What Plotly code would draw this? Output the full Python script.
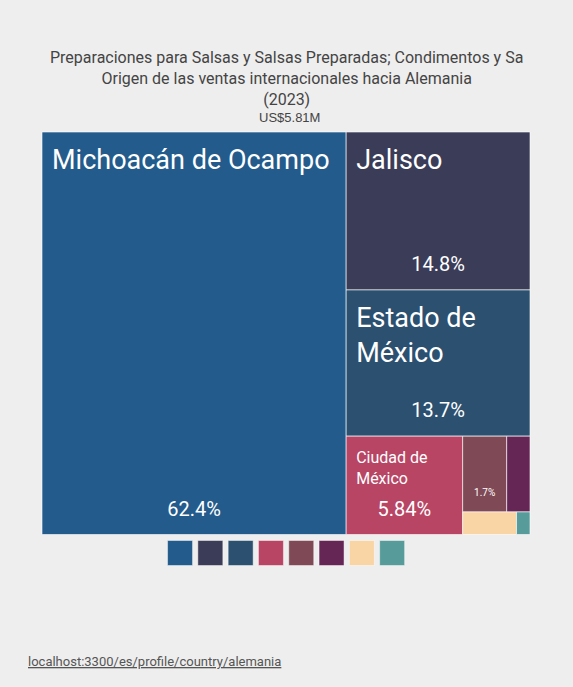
import plotly.graph_objects as go

# ---- data ----
states = ["Michoacán de Ocampo", "Jalisco", "Estado de México", "Ciudad de México",
          "Guanajuato", "Nuevo León", "Querétaro", "Sonora"]
shares = [62.4, 14.8, 13.7, 5.84, 1.7, 0.9, 0.62, 0.155]  # % of US$5.81M
colors = ["#235b8c", "#3a3c58", "#2c5070", "#b94564", "#7f4a56", "#652555", "#f9d4a5", "#579b9a"]
cell_labels = ["Michoacán de Ocampo", "Jalisco", "Estado de<br>México", "Ciudad de<br>México",
               "", "", "", ""]
label_sizes = [27, 27, 27, 16, 10, 10, 10, 10]
show_pct = [True, True, True, True, True, False, False, False]
pct_sizes = [20, 20, 20, 20, 10, 8, 8, 8]
title_lines = ["Preparaciones para Salsas y Salsas Preparadas; Condimentos y Sa",
               "Origen de las ventas internacionales hacia Alemania",
               "(2023)"]
total_label = "US$5.81M"
source = "localhost:3300/es/profile/country/alemania"

W, H = 573, 687
x0, x1, y0, y1 = 42, 530, 132, 534.5


def dom(dx=0.0, dy=0.0):
    return dict(x=[(x0 + dx) / W, (x1 + dx) / W],
                y=[1 - (y1 + dy) / H, 1 - (y0 + dy) / H])


font_main = "Roboto, sans-serif"
pct_text = [f"{v:.3g}%" if s else "" for v, s in zip(shares, show_pct)]
n = len(states)
common = dict(labels=states, parents=[""] * n, values=shares, sort=False,
              tiling=dict(pad=0, packing="squarify", squarifyratio=1.618),
              pathbar=dict(visible=False), root=dict(color="rgba(0,0,0,0)"))

fig = go.Figure()
# coloured cells
fig.add_trace(go.Treemap(
    **common, textinfo="none",
    marker=dict(colors=colors, line=dict(color="rgba(255,255,255,0.6)", width=1),
                pad=dict(t=0, l=0, r=0, b=0)),
    domain=dom(),
    hovertemplate="%{label}<br>%{value:.3g}%<extra></extra>",
))
# names, top left
fig.add_trace(go.Treemap(
    **common, text=cell_labels, texttemplate="%{text}", textposition="top left",
    textfont=dict(family=font_main, size=label_sizes, color="white"),
    marker=dict(colors=["rgba(0,0,0,0)"] * n, line=dict(width=0), pad=dict(t=0, l=0, r=0, b=0)),
    domain=dom(7, 9), hoverinfo="skip",
))
# shares, bottom centre
fig.add_trace(go.Treemap(
    **common, text=pct_text, texttemplate="%{text}", textposition="bottom center",
    textfont=dict(family=font_main, size=pct_sizes, color="white"),
    marker=dict(colors=["rgba(0,0,0,0)"] * n, line=dict(width=0), pad=dict(t=0, l=0, r=0, b=0)),
    domain=dom(0, -11), hoverinfo="skip",
))

# legend squares
fig.add_trace(go.Scatter(
    x=list(range(n)), y=[0] * n, mode="markers",
    marker=dict(symbol="square", size=25, color=colors,
                line=dict(color="rgba(255,255,255,0.45)", width=1)),
    text=states, hovertemplate="%{text}<extra></extra>", showlegend=False,
))
lx0, lx1 = 164.9, 407.3
fig.update_xaxes(visible=False, range=[-0.5, n - 0.5],
                 domain=[lx0 / W, lx1 / W], fixedrange=True)
fig.update_yaxes(visible=False, range=[-1, 1], domain=[1 - 566 / H, 1 - 540 / H], fixedrange=True)

fig.add_annotation(text="<br>".join(title_lines), x=0.5, xref="paper", y=1 - 46 / H, yref="paper",
                   xanchor="center", yanchor="top", showarrow=False,
                   font=dict(family=font_main, size=16, color="#444444"))
fig.add_annotation(text=total_label, x=0.505, xref="paper", y=1 - 127 / H, yref="paper",
                   xanchor="center", yanchor="bottom", showarrow=False,
                   font=dict(family="Liberation Sans, Arial, sans-serif", size=13, color="#444444"))
fig.add_annotation(text=f"<u>{source}</u>", x=26 / W, xref="paper", y=1 - 671 / H, yref="paper",
                   xanchor="left", yanchor="bottom", showarrow=False,
                   font=dict(family=font_main, size=13, color="#555555"))

fig.update_layout(width=W, height=H, margin=dict(l=0, r=0, t=0, b=0),
                  paper_bgcolor="#eeeeee", plot_bgcolor="rgba(0,0,0,0)",
                  showlegend=False)
fig.write_html("out.html", config={"displayModeBar": False},
               post_script="document.body.style.margin='0';"
                           "document.body.style.background='#eeeeee';"
                           "document.body.style.overflow='hidden';")
